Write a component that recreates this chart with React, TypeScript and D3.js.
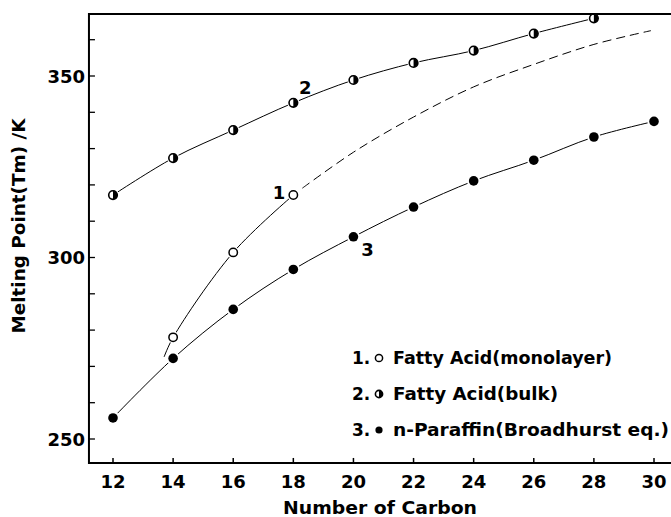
import React from "react";
import * as d3 from "d3";

// ---- data ----
const bulkCarbons = [12, 14, 16, 18, 20, 22, 24, 26, 28];
const bulkTm = [317.2, 327.4, 335.1, 342.6, 348.9, 353.6, 357.0, 361.7, 365.9];

const monolayerCarbons = [14, 16, 18];
const monolayerTm = [278.0, 301.4, 317.2];
// solid fitted curve through monolayer points (extends slightly below C14)
const monolayerCurveCarbons = [13.7, 14, 16, 18];
const monolayerCurveTm = [272.6, 278.0, 301.4, 317.2];
// dashed extrapolation
const monolayerExtrapCarbons = [18.3, 20, 22, 24, 26, 28, 29.9];
const monolayerExtrapTm = [319.1, 329.0, 338.7, 347.0, 353.2, 358.7, 362.5];

const paraffinCarbons = [12, 14, 16, 18, 20, 22, 24, 26, 28, 30];
const paraffinTm = [255.8, 272.2, 285.7, 296.7, 305.7, 313.9, 321.1, 326.8, 333.2, 337.5];

const xTicks = [12, 14, 16, 18, 20, 22, 24, 26, 28, 30];
const yMajorTicks = [250, 300, 350];
const yMinorTicks = [250, 260, 270, 280, 290, 300, 310, 320, 330, 340, 350, 360];

const legendNumbers = ["1.", "2.", "3."];
const legendLabels = ["Fatty Acid(monolayer)", "Fatty Acid(bulk)", "n-Paraffin(Broadhurst eq.)"];
const legendMarkers = ["open", "half", "filled"];
const legendWidths = [219, 165, 276];

const W = 671;
const H = 517;
const FONT = "'DejaVu Sans', 'Liberation Sans', sans-serif";

const x = d3.scaleLinear().domain([12, 30]).range([113, 654]);
const y = d3.scaleLinear().domain([250, 350]).range([439, 76]);

const frameLeft = x(11.2);
const frameRight = W + 5;
const frameTop = y(367.1);
const frameBottom = y(243.4);

function Marker({ cx, cy, kind, r }: { cx: number; cy: number; kind: string; r: number }) {
  if (kind === "open") {
    return (
      <g>
        <circle cx={cx} cy={cy} r={r + 1.8} fill="#fff" />
        <circle cx={cx} cy={cy} r={r} fill="#fff" stroke="#000" strokeWidth={1.5} />
      </g>
    );
  }
  if (kind === "filled") {
    return (
      <g>
        <circle cx={cx} cy={cy} r={r + 1.8} fill="#fff" />
        <circle cx={cx} cy={cy} r={r} fill="#000" />
      </g>
    );
  }
  const arc = d3.arc()({ innerRadius: 0, outerRadius: r, startAngle: 0, endAngle: Math.PI } as any) || "";
  return (
    <g>
      <circle cx={cx} cy={cy} r={r + 1.8} fill="#fff" />
      <circle cx={cx} cy={cy} r={r} fill="#fff" stroke="#000" strokeWidth={1.6} />
      <path d={arc} transform={`translate(${cx},${cy})`} fill="#000" />
    </g>
  );
}

export default function App() {
  const line = d3
    .line<[number, number]>()
    .x((d) => x(d[0]))
    .y((d) => y(d[1]))
    .curve(d3.curveCatmullRom.alpha(0.5));

  const zip = (a: number[], b: number[]) => a.map((v, i) => [v, b[i]] as [number, number]);

  const bulkPath = line(zip(bulkCarbons, bulkTm)) || "";
  const monoPath = line(zip(monolayerCurveCarbons, monolayerCurveTm)) || "";
  const monoExtrapPath = line(zip(monolayerExtrapCarbons, monolayerExtrapTm)) || "";
  const paraffinPath = line(zip(paraffinCarbons, paraffinTm)) || "";

  return (
    <svg
      width={W}
      height={H}
      style={{ position: "absolute", left: 0, top: 0, background: "#fff" }}
      fontFamily={FONT}
      fontWeight="bold"
    >
      <rect x={0} y={0} width={W} height={H} fill="#fff" />

      {/* lines */}
      <path d={bulkPath} fill="none" stroke="#000" strokeWidth={1} />
      <path d={monoPath} fill="none" stroke="#000" strokeWidth={1} />
      <path d={monoExtrapPath} fill="none" stroke="#000" strokeWidth={1} strokeDasharray="9,5" />
      <path d={paraffinPath} fill="none" stroke="#000" strokeWidth={1} />

      {/* markers */}
      {bulkCarbons.map((c, i) => (
        <Marker key={"b" + i} cx={x(c)} cy={y(bulkTm[i])} kind="half" r={4.3} />
      ))}
      {monolayerCarbons.map((c, i) => (
        <Marker key={"m" + i} cx={x(c)} cy={y(monolayerTm[i])} kind="open" r={4.2} />
      ))}
      {paraffinCarbons.map((c, i) => (
        <Marker key={"p" + i} cx={x(c)} cy={y(paraffinTm[i])} kind="filled" r={4.8} />
      ))}

      {/* curve labels */}
      <text x={x(18) + 12} y={y(bulkTm[3]) - 9} fontSize={18} textAnchor="middle">2</text>
      <text x={x(18) - 8} y={y(monolayerTm[2]) + 4} fontSize={18} textAnchor="end">1</text>
      <text x={x(20) + 14} y={y(paraffinTm[4]) + 19} fontSize={18} textAnchor="middle">3</text>

      {/* frame */}
      <path
        d={`M${frameRight},${frameTop}H${frameLeft}V${frameBottom}H${frameRight}`}
        fill="none"
        stroke="#000"
        strokeWidth={2}
      />

      {/* x ticks */}
      {xTicks.map((t) => (
        <g key={"xt" + t}>
          <line x1={x(t)} x2={x(t)} y1={frameBottom} y2={frameBottom - 5} stroke="#000" strokeWidth={1.5} />
          <text x={x(t)} y={488} fontSize={18} textAnchor="middle">{t}</text>
        </g>
      ))}

      {/* y ticks */}
      {yMinorTicks.map((t) => (
        <line key={"ym" + t} x1={frameLeft} x2={frameLeft + 6} y1={y(t)} y2={y(t)} stroke="#000" strokeWidth={1.3} />
      ))}
      {yMajorTicks.map((t) => (
        <text key={"yl" + t} x={85} y={y(t) + 6.5} fontSize={18} textAnchor="end">{t}</text>
      ))}

      {/* axis titles */}
      <text x={380} y={514} fontSize={17} textAnchor="middle" textLength={194} lengthAdjust="spacingAndGlyphs">
        Number of Carbon
      </text>
      <text
        transform={`translate(25,226) rotate(-90)`}
        fontSize={17}
        textAnchor="middle"
        textLength={215}
        lengthAdjust="spacingAndGlyphs"
      >
        Melting Point(Tm) /K
      </text>

      {/* legend */}
      {legendLabels.map((lab, i) => {
        const cy = 358 + i * 36;
        return (
          <g key={"lg" + i}>
            <text x={352} y={cy + 6} fontSize={17}>{legendNumbers[i]}</text>
            <Marker cx={379} cy={cy} kind={legendMarkers[i]} r={3.6} />
            <text x={393} y={cy + 6} fontSize={17} textLength={legendWidths[i]} lengthAdjust="spacingAndGlyphs">
              {lab}
            </text>
          </g>
        );
      })}
    </svg>
  );
}
